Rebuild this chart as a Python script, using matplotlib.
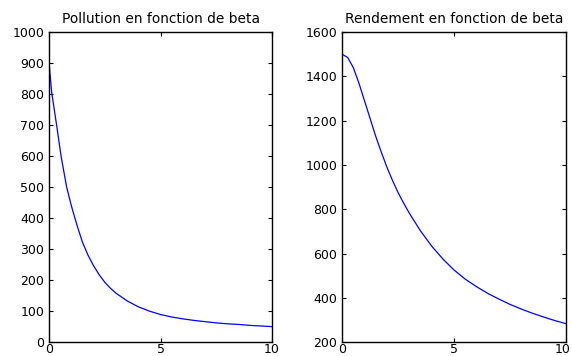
import matplotlib
matplotlib.use("Agg")
import matplotlib.pyplot as plt
import matplotlib.transforms as mtransforms

# Pollution as a function of beta
beta_p = [0, 0.12, 0.34, 0.54, 0.79, 1.0, 1.25, 1.5, 1.75, 2.0, 2.25, 2.5,
          2.75, 3.0, 3.5, 4.0, 4.5, 5.0, 5.5, 6.0, 6.5, 7.0, 7.5, 8.0, 8.5,
          9.0, 9.5, 10.0]
pollution = [902, 805, 700, 600, 500, 440, 378, 322, 280, 246, 217, 193,
             174, 158, 133, 114, 100, 89, 81, 75, 70, 66, 62, 59, 57,
             54, 52, 50]

# Yield as a function of beta
beta_r = [0, 0.25, 0.5, 0.75, 1.0, 1.25, 1.5, 1.75, 2.0, 2.25, 2.5, 2.75,
          3.0, 3.5, 4.0, 4.5, 5.0, 5.5, 6.0, 6.5, 7.0, 7.5, 8.0, 8.5, 9.0,
          9.5, 10.0]
rendement = [1500, 1485, 1440, 1370, 1290, 1210, 1130, 1058, 990, 930, 875,
             827, 782, 702, 633, 575, 525, 484, 450, 420, 394, 370, 349, 330,
             313, 297, 283]

x_ticks = [0, 5, 10]
p_ticks = list(range(0, 1001, 100))
r_ticks = list(range(200, 1601, 200))

plt.rcParams['font.family'] = ['DejaVu Sans']

fig = plt.figure(figsize=(5.72, 3.56), dpi=100)
ax1 = fig.add_axes([0.0857, 0.039, 0.390, 0.871])
ax2 = fig.add_axes([0.598, 0.039, 0.392, 0.871])


def style(ax):
    ax.tick_params(direction='in', length=3, width=0.8, top=True, right=True,
                   labelsize=9, colors='black')
    ax.tick_params(axis='x', pad=0.3)
    ax.tick_params(axis='y', pad=3.5)
    for s in ax.spines.values():
        s.set_linewidth(1.0)
        s.set_color('black')


ax1.plot(beta_p, pollution, color='#0000ff', lw=0.9)
ax1.set_xlim(0, 10)
ax1.set_ylim(0, 1000)
ax1.set_xticks(x_ticks)
ax1.set_yticks(p_ticks)
ax1.set_title('Pollution en fonction de beta', fontsize=9.9, pad=6.5)
style(ax1)

ax2.plot(beta_r, rendement, color='#0000ff', lw=0.9)
ax2.set_xlim(0, 10)
ax2.set_ylim(200, 1600)
ax2.set_xticks(x_ticks)
ax2.set_yticks(r_ticks)
ax2.set_title('Rendement en fonction de beta', fontsize=9.9, pad=6.5)
style(ax2)

# nudge the last x label of the right panel so it stays inside the figure
last = ax2.get_xticklabels()[-1]
last.set_transform(last.get_transform() +
                   mtransforms.ScaledTranslation(-3 / 72, 0, fig.dpi_scale_trans))

fig.savefig('out.png', dpi=100)
